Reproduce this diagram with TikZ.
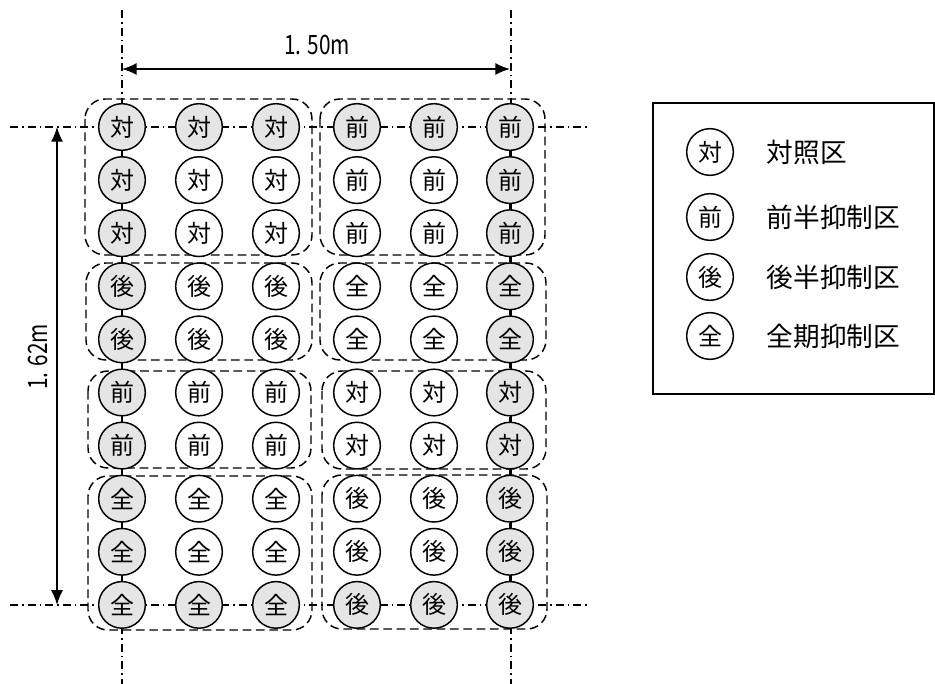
\documentclass[tikz,border=0pt]{standalone}
\usepackage{fontspec}
\setmainfont{Noto Sans CJK JP}
\newfontfamily\narrowfont[FakeStretch=0.78]{Noto Sans CJK JP}
\usetikzlibrary{arrows.meta}
\begin{document}
\begin{tikzpicture}[x=0.75pt, y=-0.75pt,
    every node/.style={font=\fontsize{18}{20}\selectfont},
    plot/.style={draw, circle, line width=1.1pt, minimum size=35pt, inner sep=0pt, fill=white},
    edgeplot/.style={plot, fill=gray!20},
    block/.style={draw, line width=1.1pt, dash pattern=on 6.5pt off 3.5pt, rounded corners=15pt},
    guide/.style={line width=0.9pt, dash pattern=on 6pt off 3pt on 1.2pt off 3pt},
    link/.style={line width=0.9pt},
    dim/.style={{Latex[length=11pt,width=9pt]}-{Latex[length=11pt,width=9pt]}, line width=1.1pt},
    dimlabel/.style={font=\narrowfont\fontsize{20}{22}\selectfont},
    key/.style={font=\fontsize{20}{24}\selectfont, anchor=west}
]
  \useasboundingbox (0,0) rectangle (935,684);

  % guide lines of the plot
  \draw[guide] (122,10) -- (122,684);
  \draw[guide] (511,10) -- (511,684);
  \draw[guide] (10,127) -- (590,127);
  \draw[guide] (10,605) -- (590,605);

  % dashed blocks
  \foreach \xa/\ya/\xb/\yb in {85/99/312/255, 320/99/545/255,
      86/263/312/360, 320/263/546/360,
      88/371/311/468, 322/371/546/469,
      88/476/312/630, 322/475/547/629}
    \draw[block] (\xa,\ya) rectangle (\xb,\yb);

  % plants
  \foreach \r/\lft/\rgt in {1/対/前,2/対/前,3/対/前,4/後/全,5/後/全,
                            6/前/対,7/前/対,8/全/後,9/全/後,10/全/後}{
    \foreach \c/\x in {1/122,2/199,3/276,4/357,5/434,6/510}{
      \pgfmathsetmacro\y{127+53.1*(\r-1)}
      \ifnum\c<4 \def\txt{\lft}\else\def\txt{\rgt}\fi
      \pgfmathtruncatemacro\isedge{(\r==1)||(\r==10)||(\c==1)||(\c==6)}
      \ifnum\isedge=1
        \node[edgeplot] (p-\r-\c) at (\x,\y) {\txt};
      \else
        \node[plot] (p-\r-\c) at (\x,\y) {\txt};
      \fi
    }
  }

  % links along the outer columns
  \foreach \r [evaluate=\r as \s using int(\r+1)] in {1,...,9}{
    \draw[link] (p-\r-1) -- (p-\s-1);
    \draw[link] (p-\r-6) -- (p-\s-6);
  }

  % dimensions
  \coordinate (wline) at (0,69);
  \coordinate (hline) at (57,0);
  \draw[dim] (p-1-1 |- wline) -- (p-1-6 |- wline);
  \draw[dim] (p-1-1 -| hline) -- (p-10-1 -| hline);
  \node[dimlabel] (wlab) at (317,45) {1. 50m};
  \node[dimlabel, rotate=90] (hlab) at (38,357) {1. 62m};

  % legend
  \draw[line width=1.1pt] (653,103) rectangle (934,394);
  \node[plot] (k1) at (710,152) {対};
  \node[plot] (k2) at (710,217) {前};
  \node[plot] (k3) at (710,277) {後};
  \node[plot] (k4) at (710,336) {全};
  \node[key] (t1) at (762,152) {対照区};
  \node[key] (t2) at (762,217) {前半抑制区};
  \node[key] (t3) at (762,277) {後半抑制区};
  \node[key] (t4) at (762,336) {全期抑制区};
\end{tikzpicture}
\end{document}
